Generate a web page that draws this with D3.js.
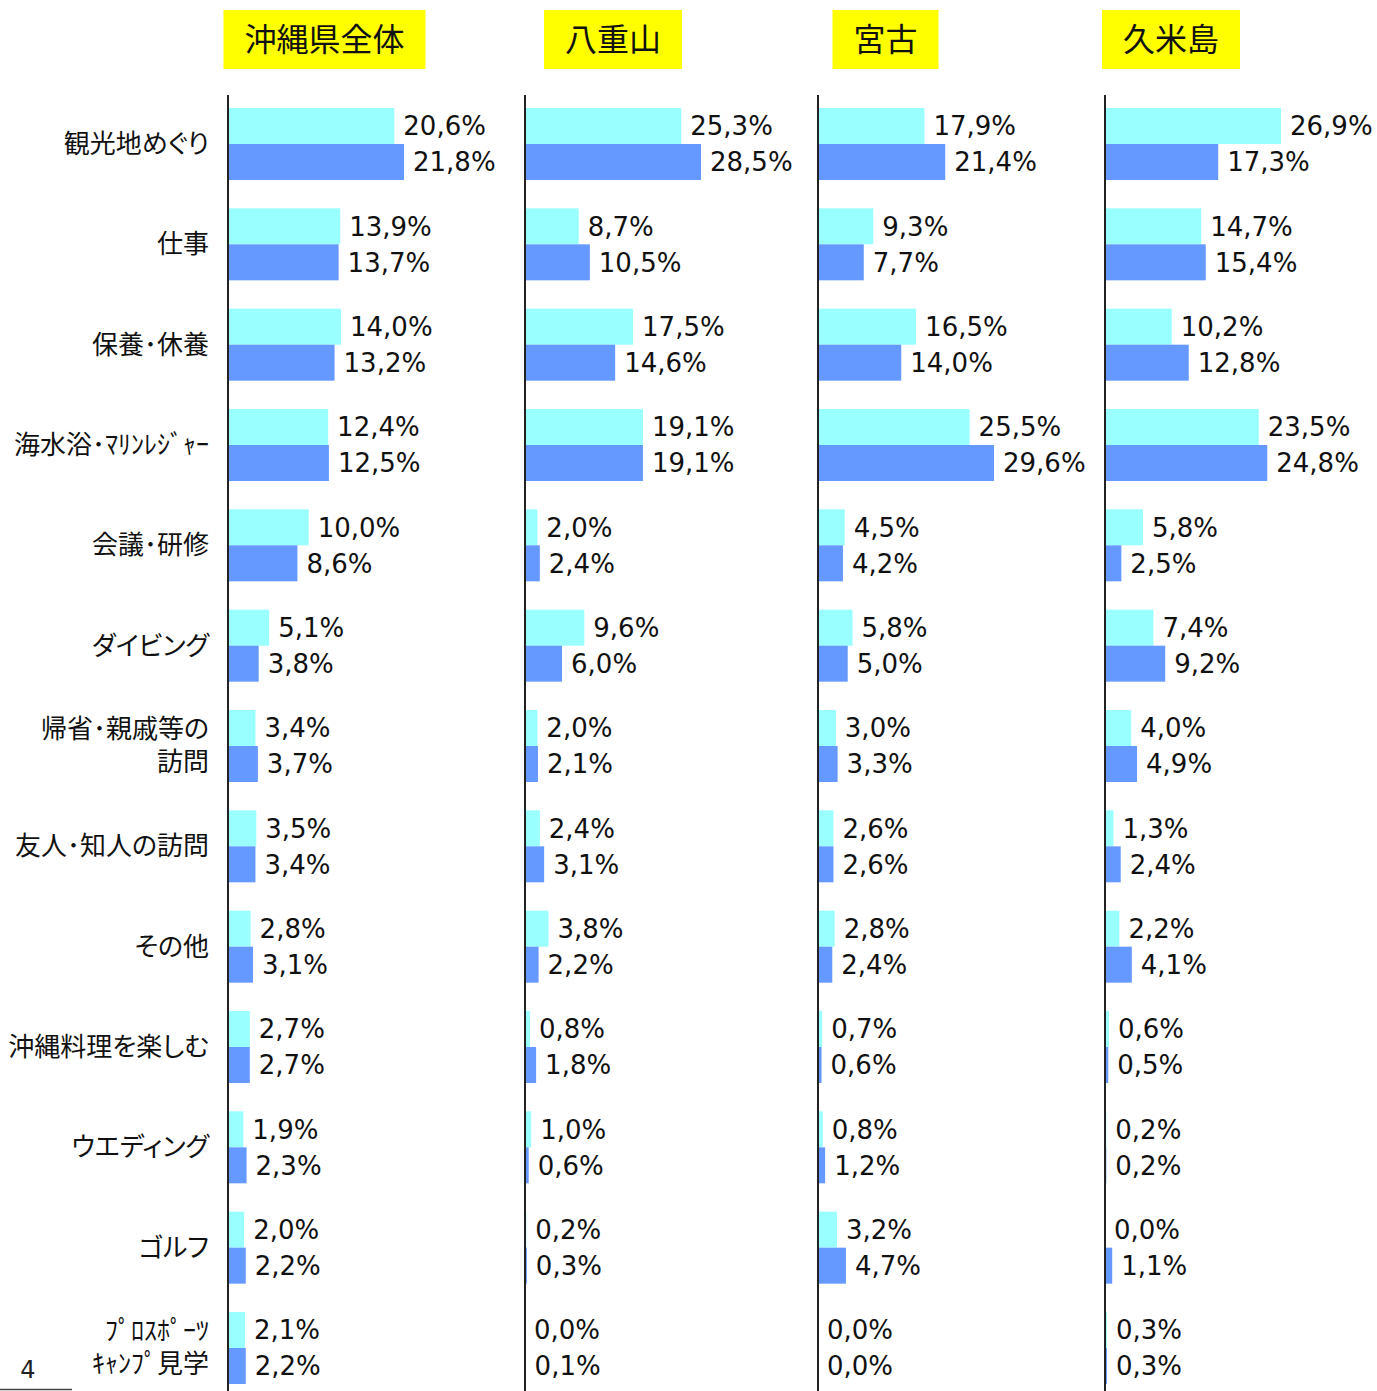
<!DOCTYPE html>
<html>
<head>
<meta charset="utf-8">
<script src="https://cdnjs.cloudflare.com/ajax/libs/d3/7.8.5/d3.min.js"></script>
<style>
  body { margin: 0; background: #fff; }
  svg { display: block; }
  .cat { font-family: "Noto Sans CJK JP", sans-serif; font-size: 26px; fill: #111; font-feature-settings: "palt"; }
  .val { font-family: "DejaVu Sans", Verdana, sans-serif; font-size: 26px; fill: #111; }
  .head { font-family: "Noto Sans CJK JP", sans-serif; font-size: 32px; fill: #111; }
</style>
</head>
<body>
<svg width="1377" height="1391"></svg>
<script>
// categories (multi-line labels split with "\n")
var categories = [
  "観光地めぐり", "仕事", "保養･休養", "海水浴･ﾏﾘﾝﾚｼﾞｬｰ", "会議･研修", "ダイビング",
  "帰省･親戚等の\n訪問", "友人･知人の訪問", "その他", "沖縄料理を楽しむ", "ウエディング",
  "ゴルフ", "ﾌﾟﾛｽﾎﾟｰﾂ\nｷｬﾝﾌﾟ見学"
];
var regions = ["沖縄県全体", "八重山", "宮古", "久米島"];

// first series (light cyan) and second series (blue), per region
var okinawaA = [20.6, 13.9, 14.0, 12.4, 10.0, 5.1, 3.4, 3.5, 2.8, 2.7, 1.9, 2.0, 2.1];
var okinawaB = [21.8, 13.7, 13.2, 12.5, 8.6, 3.8, 3.7, 3.4, 3.1, 2.7, 2.3, 2.2, 2.2];
var yaeyamaA = [25.3, 8.7, 17.5, 19.1, 2.0, 9.6, 2.0, 2.4, 3.8, 0.8, 1.0, 0.2, 0.0];
var yaeyamaB = [28.5, 10.5, 14.6, 19.1, 2.4, 6.0, 2.1, 3.1, 2.2, 1.8, 0.6, 0.3, 0.1];
var miyakoA  = [17.9, 9.3, 16.5, 25.5, 4.5, 5.8, 3.0, 2.6, 2.8, 0.7, 0.8, 3.2, 0.0];
var miyakoB  = [21.4, 7.7, 14.0, 29.6, 4.2, 5.0, 3.3, 2.6, 2.4, 0.6, 1.2, 4.7, 0.0];
var kumeA    = [26.9, 14.7, 10.2, 23.5, 5.8, 7.4, 4.0, 1.3, 2.2, 0.6, 0.2, 0.0, 0.3];
var kumeB    = [17.3, 15.4, 12.8, 24.8, 2.5, 9.2, 4.9, 2.4, 4.1, 0.5, 0.2, 1.1, 0.3];

var seriesA = [okinawaA, yaeyamaA, miyakoA, kumeA];
var seriesB = [okinawaB, yaeyamaB, miyakoB, kumeB];

// layout
var axisX = [228, 525, 818, 1105];
var headCenter = [324.5, 613, 885.5, 1171];
var headPad = 21;
var maxBar = 176;
var colA = "#99ffff", colB = "#6699ff";

var svg = d3.select("svg");

var y = d3.scaleBand()
    .domain(categories)
    .range([108, 1384])
    .paddingInner(0.2824)
    .paddingOuter(0)
    .align(0);

var ySub = d3.scaleBand()
    .domain(["A", "B"])
    .range([0, y.bandwidth()]);

var fmt = function(v) { return v.toFixed(1).replace(".", ",") + "%"; };

// category labels
var cat = svg.append("g").selectAll("text")
    .data(categories)
    .enter().append("text")
    .attr("class", "cat")
    .attr("text-anchor", "end")
    .attr("x", 209)
    .attr("y", function(d) { return y(d) + y.bandwidth() / 2; });

cat.each(function(d) {
  var lines = d.split("\n");
  var t = d3.select(this);
  lines.forEach(function(l, i) {
    t.append("tspan")
      .attr("x", 209)
      .attr("dy", i == 0 ? (lines.length == 1 ? "0.35em" : "-0.29em") : "1.27em")
      .text(l);
  });
});

// panels
regions.forEach(function(r, i) {
  var x = d3.scaleLinear()
      .domain([0, d3.max(seriesA[i].concat(seriesB[i]))])
      .range([axisX[i], axisX[i] + maxBar]);

  var g = svg.append("g").attr("class", "panel");

  var rows = categories.map(function(c, j) {
    return {cat: c, a: seriesA[i][j], b: seriesB[i][j]};
  });

  ["A", "B"].forEach(function(s) {
    var key = s == "A" ? "a" : "b";
    g.append("g").selectAll("rect")
      .data(rows)
      .enter().append("rect")
      .attr("x", x(0))
      .attr("y", function(d) { return y(d.cat) + ySub(s); })
      .attr("width", function(d) { return x(d[key]) - x(0); })
      .attr("height", ySub.bandwidth())
      .attr("fill", s == "A" ? colA : colB);

    g.append("g").selectAll("text")
      .data(rows)
      .enter().append("text")
      .attr("class", "val")
      .attr("x", function(d) { return x(d[key]) + 9; })
      .attr("y", function(d) { return y(d.cat) + ySub(s) + ySub.bandwidth() / 2; })
      .attr("dy", "0.36em")
      .text(function(d) { return fmt(d[key]); });
  });

  // axis line
  g.append("line")
    .attr("x1", x(0)).attr("x2", x(0))
    .attr("y1", 95).attr("y2", 1391)
    .attr("stroke", "#222")
    .attr("stroke-width", 2);

  // header box
  var h = svg.append("g");
  var ht = h.append("text")
    .attr("class", "head")
    .attr("text-anchor", "middle")
    .attr("x", headCenter[i])
    .attr("y", 40)
    .attr("dy", "0.35em")
    .text(r);
  var w = ht.node().getComputedTextLength() + headPad * 2;
  h.insert("rect", "text")
    .attr("x", headCenter[i] - w / 2)
    .attr("y", 10)
    .attr("width", w)
    .attr("height", 59)
    .attr("fill", "#ffff00");
});

// page number
svg.append("text")
  .attr("x", 28).attr("y", 1369)
  .attr("dy", "0.36em")
  .attr("text-anchor", "middle")
  .style("font-family", "DejaVu Sans, sans-serif")
  .style("font-size", "24px")
  .attr("fill", "#222")
  .text("4");
svg.append("line")
  .attr("x1", 0).attr("x2", 72)
  .attr("y1", 1389.5).attr("y2", 1389.5)
  .attr("stroke", "#444")
  .attr("stroke-width", 1.5);
</script>
</body>
</html>
